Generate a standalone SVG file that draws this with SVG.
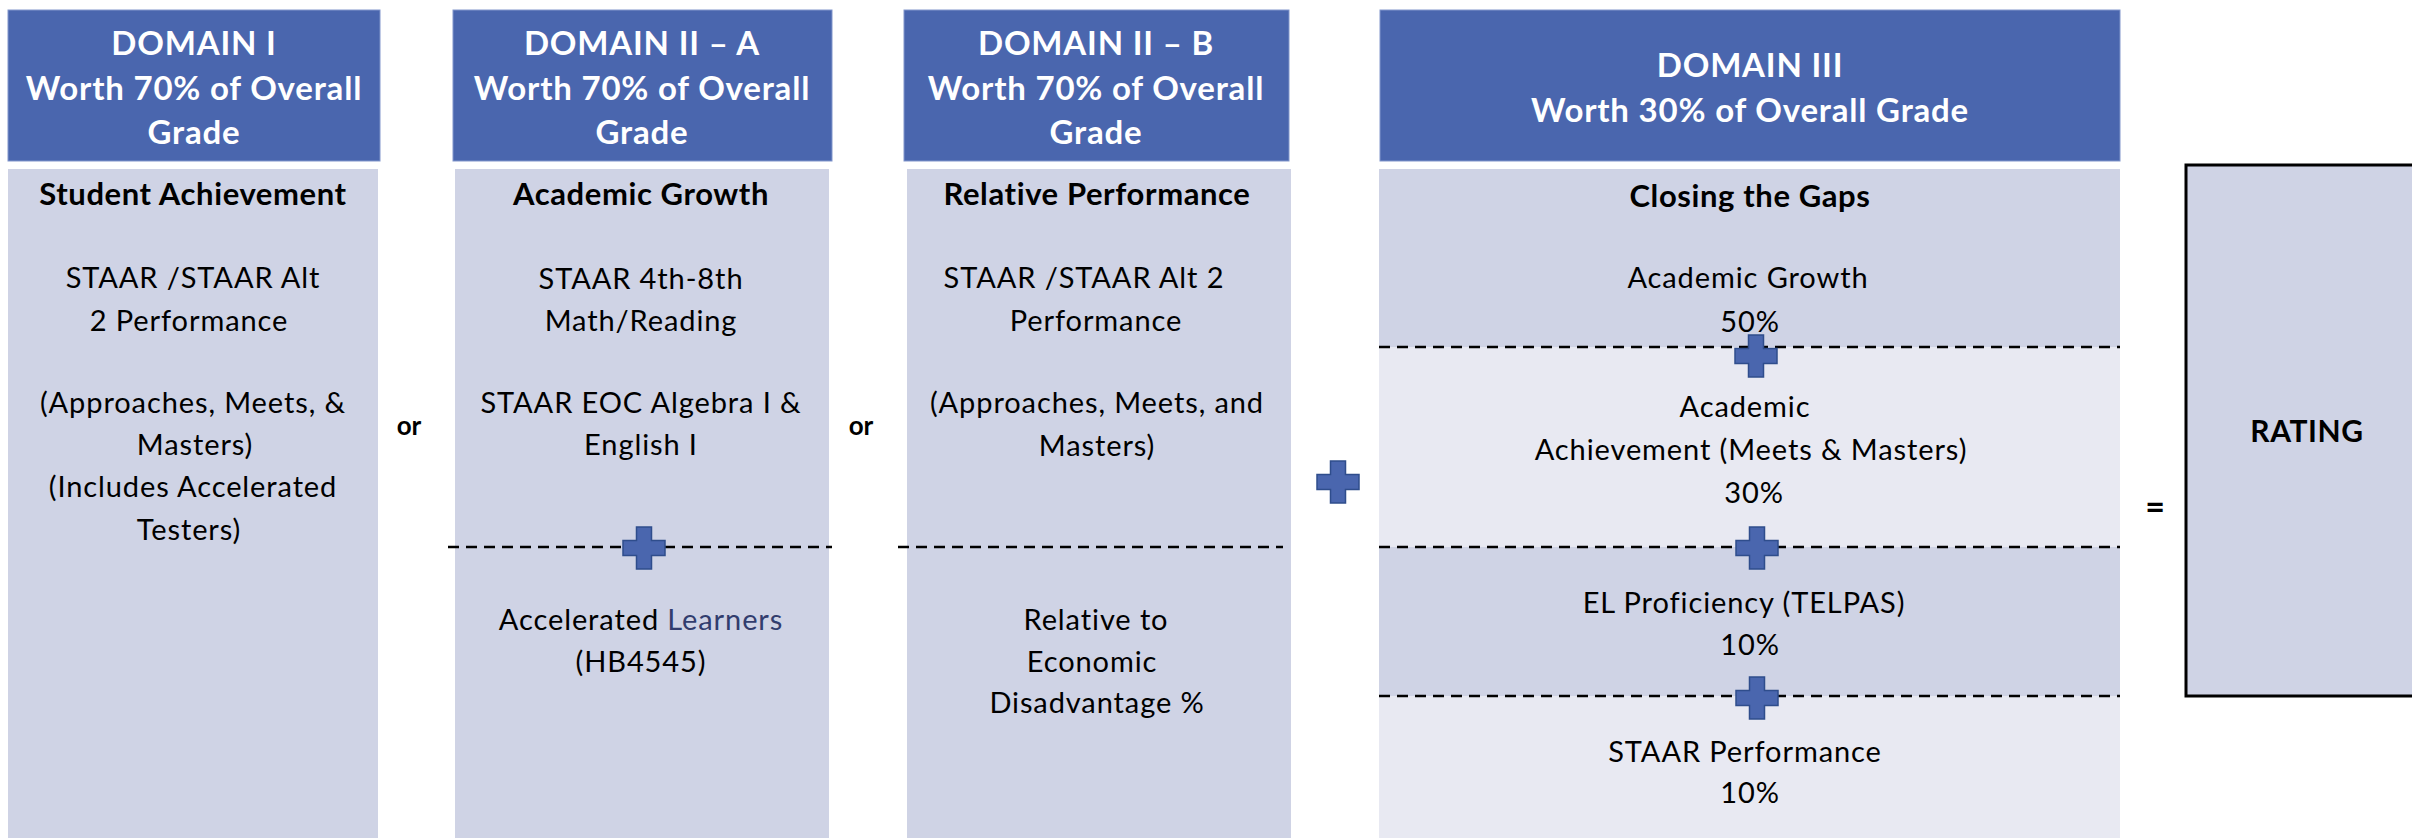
<svg xmlns="http://www.w3.org/2000/svg" width="2412" height="838" viewBox="0 0 2412 838">
<style>
.hdr{fill:#4a66ae;stroke:#8196cb;stroke-width:1}
.body{fill:#cfd3e5}
.light{fill:#e8e9f2}
.ht{font-family:Lato,"Liberation Sans",sans-serif;font-weight:700;font-size:33px;letter-spacing:0.8px;fill:#ffffff;text-anchor:middle}
.tt{font-family:Lato,"Liberation Sans",sans-serif;font-weight:700;font-size:31px;letter-spacing:0.6px;fill:#000000;text-anchor:middle}
.t{font-family:Lato,"Liberation Sans",sans-serif;font-size:29px;letter-spacing:0.9px;fill:#000000;text-anchor:middle}
.op{font-family:Lato,"Liberation Sans",sans-serif;font-weight:700;font-size:26px;fill:#000000;text-anchor:middle}
.dash{stroke:#000000;stroke-width:2.5;stroke-dasharray:11 7;fill:none}
.plus{fill:#4a66ae;stroke:#2f4d8c;stroke-width:1.5}
.rating{fill:#cfd3e5;stroke:#000000;stroke-width:3}
</style>
<defs>
<path id="plus" d="M-7.5,-21 H7.5 V-7.5 H21 V7.5 H7.5 V21 H-7.5 V7.5 H-21 V-7.5 H-7.5 Z"/>
</defs>

<g id="domain1">
<rect class="hdr" x="8" y="10" width="372" height="151"/>
<text class="ht" x="194" y="55">DOMAIN I</text>
<text class="ht" x="194" y="100">Worth 70% of Overall</text>
<text class="ht" x="194" y="144">Grade</text>
<rect class="body" x="8" y="169" width="370" height="669"/>
<text class="tt" x="193" y="205">Student Achievement</text>
<text class="t" x="193" y="288">STAAR /STAAR Alt</text>
<text class="t" x="189" y="331">2 Performance</text>
<text class="t" x="193" y="413">(Approaches, Meets, &amp;</text>
<text class="t" x="195" y="455">Masters)</text>
<text class="t" x="193" y="497">(Includes Accelerated</text>
<text class="t" x="189" y="540">Testers)</text>
</g>

<g id="domain2a">
<rect class="hdr" x="453" y="10" width="379" height="151"/>
<text class="ht" x="642" y="55">DOMAIN II – A</text>
<text class="ht" x="642" y="100">Worth 70% of Overall</text>
<text class="ht" x="642" y="144">Grade</text>
<rect class="body" x="455" y="169" width="374" height="669"/>
<text class="tt" x="641" y="205">Academic Growth</text>
<text class="t" x="641" y="289">STAAR 4th-8th</text>
<text class="t" x="641" y="331">Math/Reading</text>
<text class="t" x="641" y="413">STAAR EOC Algebra I &amp;</text>
<text class="t" x="641" y="455">English I</text>
<line class="dash" x1="448" y1="547" x2="832" y2="547"/>
<use href="#plus" class="plus" transform="translate(644,548)"/>
<text class="t" x="641" y="630">Accelerated <tspan fill="#323d6e">Learners</tspan></text>
<text class="t" x="641" y="672">(HB4545)</text>
</g>

<g id="domain2b">
<rect class="hdr" x="904" y="10" width="385" height="151"/>
<text class="ht" x="1096" y="55">DOMAIN II – B</text>
<text class="ht" x="1096" y="100">Worth 70% of Overall</text>
<text class="ht" x="1096" y="144">Grade</text>
<rect class="body" x="907" y="169" width="384" height="669"/>
<text class="tt" x="1097" y="205">Relative Performance</text>
<text class="t" x="1084" y="288">STAAR /STAAR Alt 2</text>
<text class="t" x="1096" y="331">Performance</text>
<text class="t" x="1097" y="413">(Approaches, Meets, and</text>
<text class="t" x="1097" y="456">Masters)</text>
<line class="dash" x1="898" y1="547" x2="1283" y2="547"/>
<text class="t" x="1096" y="630">Relative to</text>
<text class="t" x="1092" y="672">Economic</text>
<text class="t" x="1097" y="713">Disadvantage %</text>
</g>

<g id="domain3">
<rect class="hdr" x="1380" y="10" width="740" height="151"/>
<text class="ht" x="1750" y="77">DOMAIN III</text>
<text class="ht" x="1750" y="122">Worth 30% of Overall Grade</text>
<rect class="body" x="1379" y="169" width="741" height="178"/>
<rect class="light" x="1379" y="347" width="741" height="200"/>
<rect class="body" x="1379" y="547" width="741" height="149"/>
<rect class="light" x="1379" y="696" width="741" height="142"/>
<text class="tt" x="1750" y="207">Closing the Gaps</text>
<text class="t" x="1748" y="288">Academic Growth</text>
<text class="t" x="1750" y="332">50%</text>
<line class="dash" x1="1379" y1="347" x2="2120" y2="347"/>
<use href="#plus" class="plus" transform="translate(1756,356)"/>
<text class="t" x="1745" y="417">Academic</text>
<text class="t" x="1751" y="460">Achievement (Meets &amp; Masters)</text>
<text class="t" x="1754" y="503">30%</text>
<line class="dash" x1="1379" y1="547" x2="2120" y2="547"/>
<use href="#plus" class="plus" transform="translate(1757,548)"/>
<text class="t" x="1744" y="613">EL Proficiency (TELPAS)</text>
<text class="t" x="1750" y="655">10%</text>
<line class="dash" x1="1379" y1="696" x2="2120" y2="696"/>
<use href="#plus" class="plus" transform="translate(1757,698)"/>
<text class="t" x="1745" y="762">STAAR Performance</text>
<text class="t" x="1750" y="803">10%</text>
</g>

<g id="rating">
<rect class="rating" x="2186" y="165" width="260" height="531"/>
<text class="tt" x="2307" y="442" style="font-size:30px">RATING</text>
</g>

<g id="connectors">
<text class="op" x="409" y="435">or</text>
<text class="op" x="861" y="435">or</text>
<use href="#plus" class="plus" transform="translate(1338,482)"/>
<text class="op" x="2155" y="519" style="font-size:34px">=</text>
</g>
</svg>
